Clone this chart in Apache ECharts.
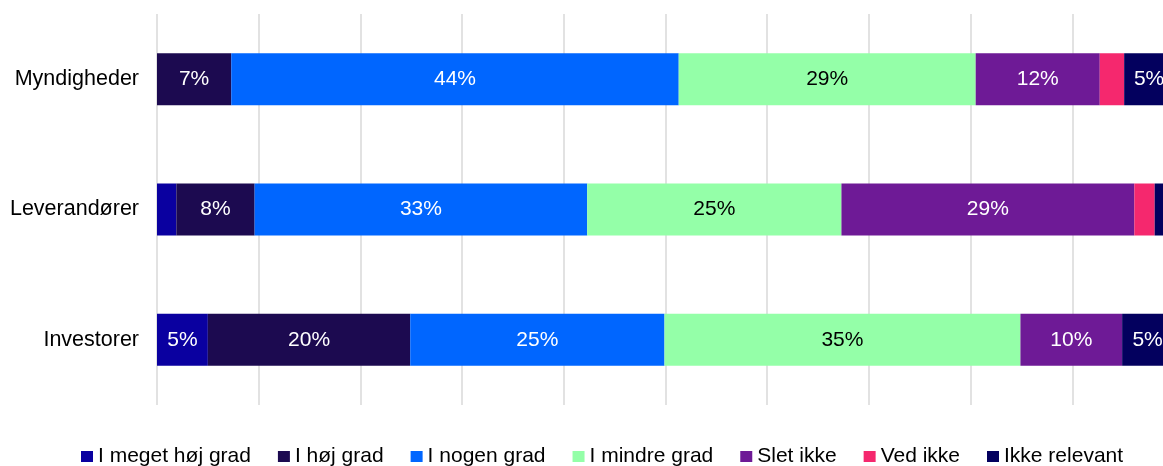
<!DOCTYPE html>
<html>
<head>
<meta charset="utf-8">
<script src="https://cdn.jsdelivr.net/npm/echarts@6/dist/echarts.min.js"></script>
<style>
html,body{margin:0;padding:0;background:#fff;overflow:hidden;width:1163px;height:466px;}
#chart{width:1174px;height:466px;}
</style>
</head>
<body>
<div id="chart"></div>
<script>
const categories = ['Investorer', 'Leverandører', 'Myndigheder'];
const seriesNames = ['I meget høj grad', 'I høj grad', 'I nogen grad', 'I mindre grad', 'Slet ikke', 'Ved ikke', 'Ikke relevant'];
const megetHoejGrad = [5.0, 1.9, 0];
const hoejGrad = [19.9, 7.7, 7.3];
const nogenGrad = [25.0, 32.7, 44.0];
const mindreGrad = [35.0, 25.0, 29.2];
const sletIkke = [10.0, 28.8, 12.2];
const vedIkke = [0, 2.0, 2.4];
const ikkeRelevant = [5.0, 1.8, 4.9];
const seriesValues = [megetHoejGrad, hoejGrad, nogenGrad, mindreGrad, sletIkke, vedIkke, ikkeRelevant];
const colors = ['#0a00a0', '#1c0a50', '#0066ff', '#94ffa8', '#6e1a96', '#f5286e', '#03005e'];
const labelColors = ['#fff', '#fff', '#fff', '#000', '#fff', '#fff', '#fff'];

const chart = echarts.init(document.getElementById('chart'), null, {renderer: 'canvas'});
const font = 'Liberation Sans, Arial, sans-serif';
chart.setOption({
  animation: false,
  color: colors,
  textStyle: {fontFamily: font},
  grid: {left: 157, top: 14, bottom: 61, right: 0, containLabel: false},
  legend: {
    top: 446,
    left: 81,
    padding: 0,
    itemWidth: 12,
    itemHeight: 11,
    itemGap: 27,
    icon: 'rect',
    textStyle: {fontSize: 21, color: '#000', fontFamily: font},
    data: seriesNames
  },
  xAxis: {
    type: 'value', min: 0, max: 100, interval: 10,
    axisLabel: {show: false}, axisLine: {show: false}, axisTick: {show: false},
    splitLine: {show: true, lineStyle: {color: '#d9d9d9', width: 1.5}}
  },
  yAxis: {
    type: 'category', data: categories,
    axisLine: {show: false}, axisTick: {show: false},
    axisLabel: {fontSize: 21.5, color: '#000', margin: 18, fontFamily: font}
  },
  series: seriesNames.map((name, i) => ({
    name: name,
    type: 'bar',
    stack: 'total',
    barWidth: 52,
    data: seriesValues[i],
    itemStyle: {color: colors[i]},
    label: {
      show: true, position: 'inside', fontSize: 21, color: labelColors[i], fontFamily: font,
      formatter: p => p.value >= 3 ? Math.round(p.value) + '%' : ''
    }
  }))
});
</script>
</body>
</html>
